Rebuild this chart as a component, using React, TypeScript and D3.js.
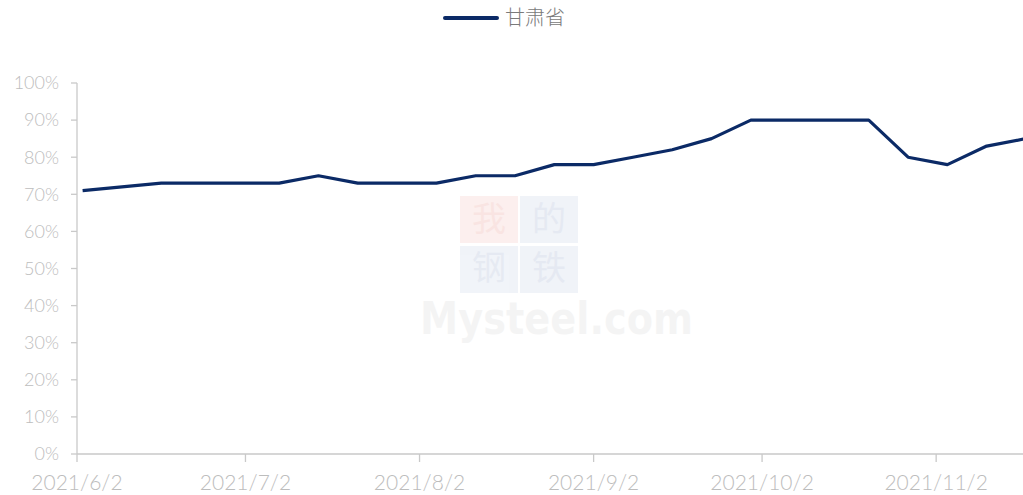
import React from "react";
import * as d3 from "d3";

const dates: string[] = [
  "2021-06-03", "2021-06-10", "2021-06-17", "2021-06-24", "2021-07-01",
  "2021-07-08", "2021-07-15", "2021-07-22", "2021-07-29", "2021-08-05",
  "2021-08-12", "2021-08-19", "2021-08-26", "2021-09-02", "2021-09-09",
  "2021-09-16", "2021-09-23", "2021-09-30", "2021-10-07", "2021-10-14",
  "2021-10-21", "2021-10-28", "2021-11-04", "2021-11-11", "2021-11-18",
];
const gansu: number[] = [
  71, 72, 73, 73, 73, 73, 75, 73, 73, 73, 75, 75, 78, 78, 80, 82, 85, 90, 90, 90, 90, 80, 78, 83, 85,
];
const xTickDates: string[] = ["2021-06-02", "2021-07-02", "2021-08-02", "2021-09-02", "2021-10-02", "2021-11-02"];
const xTickLabels: string[] = ["2021/6/2", "2021/7/2", "2021/8/2", "2021/9/2", "2021/10/2", "2021/11/2"];
const yTicks: number[] = [0, 10, 20, 30, 40, 50, 60, 70, 80, 90, 100];
const seriesName = "甘肃省";

const W = 1023;
const H = 495;
const left = 77;
const right = 1026;
const top = 83;
const bottom = 454;

export default function App() {
  const parse = d3.timeParse("%Y-%m-%d");
  const x = d3
    .scaleTime()
    .domain([parse("2021-06-02")!, parse("2021-11-18")!])
    .range([left, right]);
  const y = d3.scaleLinear().domain([0, 100]).range([bottom, top]);
  const data = dates.map((d, i) => ({ d: parse(d)!, v: gansu[i] }));
  const line = d3
    .line<{ d: Date; v: number }>()
    .x((p) => x(p.d))
    .y((p) => y(p.v));
  const axisColor = "#c9c9c9";
  const labelColor = "#bdbdbd";
  const font = "Lato, 'Open Sans', 'Noto Sans', sans-serif";

  return (
    <svg
      width={W}
      height={H}
      style={{ position: "absolute", left: 0, top: 0, display: "block", background: "#fff" }}
    >
      {/* watermark */}
      <g opacity={0.07}>
        <rect x={460} y={196} width={58} height={47} fill="#e0301e" />
        <rect x={520} y={196} width={58} height={47} fill="#3a5fa8" />
        <rect x={460} y={246} width={58} height={47} fill="#3a5fa8" />
        <rect x={520} y={246} width={58} height={47} fill="#3a5fa8" />
      </g>
      <g opacity={0.12} fontFamily="'Noto Sans CJK SC', sans-serif" fontSize={34} fill="#9aa5c8" textAnchor="middle">
        <text x={489} y={231} fill="#e79a90">我</text>
        <text x={549} y={231}>的</text>
        <text x={489} y={280}>钢</text>
        <text x={549} y={280}>铁</text>
      </g>
      <text
        x={420}
        y={334}
        fontFamily="'DejaVu Sans', sans-serif"
        fontWeight="bold"
        fontSize={44}
        fill="#000"
        opacity={0.04}
        textLength={273}
        lengthAdjust="spacingAndGlyphs"
      >
        Mysteel.com
      </text>

      {/* axes */}
      <line x1={left} x2={left} y1={top} y2={bottom} stroke={axisColor} strokeWidth={1.3} />
      <line x1={left} x2={W} y1={bottom} y2={bottom} stroke={axisColor} strokeWidth={1.3} />
      {yTicks.map((t) => (
        <g key={t}>
          <line x1={left - 6} x2={left} y1={y(t)} y2={y(t)} stroke={axisColor} strokeWidth={1.3} />
          <text
            x={59}
            y={y(t)}
            dy="0.35em"
            textAnchor="end"
            fontFamily={font}
            fontWeight={300}
            fontSize={18}
            fill={labelColor}
          >
            {t + "%"}
          </text>
        </g>
      ))}
      {xTickDates.map((t, i) => {
        const xv = x(parse(t)!);
        return (
          <g key={t}>
            <line x1={xv} x2={xv} y1={bottom} y2={bottom + 8} stroke={axisColor} strokeWidth={1.3} />
            <text
              x={xv}
              y={490}
              textAnchor="middle"
              fontFamily={font}
              fontWeight={300}
              fontSize={21}
              fill={labelColor}
            >
              {xTickLabels[i]}
            </text>
          </g>
        );
      })}

      {/* series */}
      <path d={line(data)!} fill="none" stroke="#0b2a66" strokeWidth={3.2} strokeLinejoin="round" />

      {/* legend */}
      <line x1={445} x2={497} y1={18} y2={18} stroke="#0b2a66" strokeWidth={4} strokeLinecap="round" />
      <text
        x={505}
        y={25}
        fontFamily="'Noto Sans CJK SC', sans-serif"
        fontWeight={300}
        fontSize={20}
        fill="#7a7a7a"
      >
        {seriesName}
      </text>
    </svg>
  );
}
